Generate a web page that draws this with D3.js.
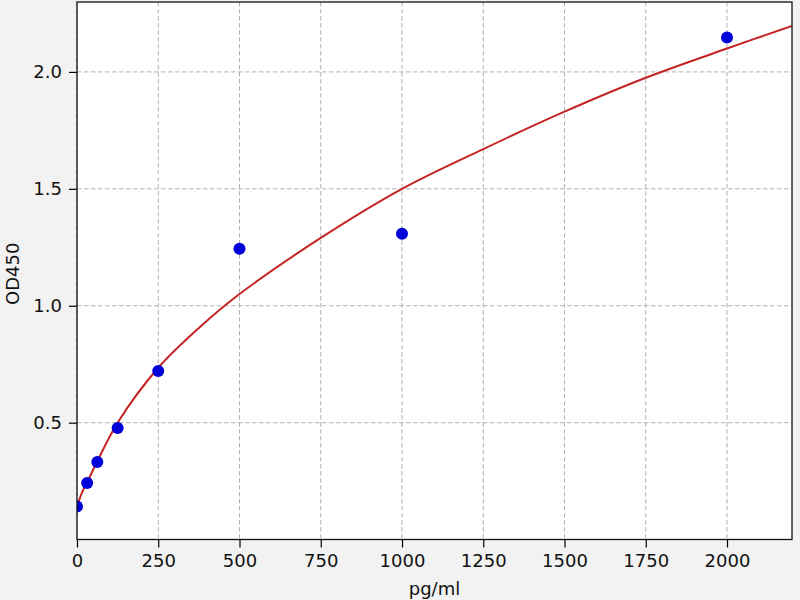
<!DOCTYPE html>
<html>
<head>
<meta charset="utf-8">
<script src="https://cdn.jsdelivr.net/npm/d3@7"></script>
<style>
  html, body { margin: 0; padding: 0; background: #f2f2f2; }
  svg { display: block; font-family: "DejaVu Sans", sans-serif; }
</style>
</head>
<body>
<svg id="chart" width="800" height="600"></svg>
<script>
// Measured standards
const concentrations = [0, 31.25, 62.5, 125, 250, 500, 1000, 2000];
const odValues = [0.142, 0.242, 0.332, 0.477, 0.721, 1.244, 1.308, 2.147];

// Fitted curve
const curveX = [0, 15, 31.25, 62.5, 125, 250, 375, 500, 750, 1000, 1250, 1500, 1750, 2000, 2200];
const curveY = [0.14, 0.20, 0.245, 0.335, 0.50, 0.735, 0.905, 1.05, 1.29, 1.50, 1.67, 1.83, 1.975, 2.10, 2.197];

const xTicks = [0, 250, 500, 750, 1000, 1250, 1500, 1750, 2000];
const yTicks = [0.5, 1.0, 1.5, 2.0];
const xLabel = "pg/ml";
const yLabel = "OD450";

const svg = d3.select("#chart");
const pL = 77, pR = 792, pT = 2, pB = 539.5;
const fs = 18;

const x = d3.scaleLinear().domain([0, 2200]).range([pL, pR]);
const y = d3.scaleLinear().domain([0.0005, 2.299]).range([pB, pT]);

svg.append("rect").attr("x", pL).attr("y", pT)
  .attr("width", pR - pL).attr("height", pB - pT).attr("fill", "#ffffff");

// grid
const grid = svg.append("g");
grid.selectAll(".vg").data(xTicks).join("line")
  .attr("x1", d => x(d)).attr("x2", d => x(d))
  .attr("y1", pT).attr("y2", pB)
  .attr("stroke", "#b0b0b0").attr("stroke-width", 1).attr("stroke-dasharray", "4.5,2.5");
grid.selectAll(".hg").data(yTicks).join("line")
  .attr("y1", d => y(d)).attr("y2", d => y(d))
  .attr("x1", pL).attr("x2", pR)
  .attr("stroke", "#b0b0b0").attr("stroke-width", 1).attr("stroke-dasharray", "4.5,2.5");

// clip
svg.append("clipPath").attr("id", "clip").append("rect")
  .attr("x", pL).attr("y", pT).attr("width", pR - pL).attr("height", pB - pT);

// curve
const line = d3.line().x(d => x(d[0])).y(d => y(d[1])).curve(d3.curveCatmullRom.alpha(0.5));
svg.append("path")
  .datum(curveX.map((v, i) => [v, curveY[i]]))
  .attr("d", line)
  .attr("fill", "none")
  .attr("stroke", "#c42424")
  .attr("stroke-width", 2)
  .attr("clip-path", "url(#clip)");

// points
svg.append("g").attr("clip-path", "url(#clip)")
  .selectAll("circle").data(concentrations).join("circle")
  .attr("cx", d => x(d)).attr("cy", (d, i) => y(odValues[i]))
  .attr("r", 6).attr("fill", "#0000d8");

// axes
const xAxis = d3.axisBottom(x).tickValues(xTicks).tickFormat(d3.format("d")).tickSize(8).tickPadding(7);
const yAxis = d3.axisLeft(y).tickValues(yTicks).tickFormat(d3.format(".1f")).tickSize(8).tickPadding(7);

const gx = svg.append("g").attr("transform", `translate(0,${pB})`).call(xAxis);
const gy = svg.append("g").attr("transform", `translate(${pL},0)`).call(yAxis);
[gx, gy].forEach(g => {
  g.select(".domain").remove();
  g.selectAll("line").attr("stroke", "#000").attr("stroke-width", 1.2);
  g.selectAll("text").attr("font-size", fs).attr("fill", "#111")
    .attr("font-family", "DejaVu Sans, sans-serif");
});

// frame
svg.append("rect").attr("x", pL).attr("y", pT)
  .attr("width", pR - pL).attr("height", pB - pT)
  .attr("fill", "none").attr("stroke", "#111").attr("stroke-width", 1.3);

// labels
svg.append("text").attr("x", (pL + pR) / 2).attr("y", 594.5)
  .attr("text-anchor", "middle").attr("font-size", fs).attr("fill", "#111").text(xLabel);
svg.append("text").attr("transform", `translate(18.5,${(pT + pB) / 2 + 3}) rotate(-90)`)
  .attr("text-anchor", "middle").attr("font-size", fs).attr("fill", "#111").text(yLabel);
</script>
</body>
</html>
